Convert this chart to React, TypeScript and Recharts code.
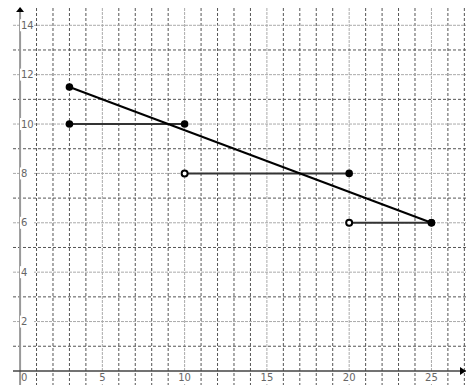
import { LineChart, Line, XAxis, YAxis, CartesianGrid, ReferenceLine, ReferenceDot } from "recharts";

// grid every unit, labels only on some of them
const xGridTicks = [0, 1, 2, 3, 4, 5, 6, 7, 8, 9, 10, 11, 12, 13, 14, 15, 16, 17, 18, 19, 20, 21, 22, 23, 24, 25, 26, 27];
const yGridTicks = [0, 1, 2, 3, 4, 5, 6, 7, 8, 9, 10, 11, 12, 13, 14];
const xLabels = [0, 5, 10, 15, 20, 25];
const yLabels = [2, 4, 6, 8, 10, 12, 14];

// straight line
const trendX = [3, 25];
const trendY = [11.5, 6];

// step segments (open circle on the left end where marked)
const stepFrom = [3, 10, 20];
const stepTo = [10, 20, 25];
const stepLevel = [10, 8, 6];
const stepFromOpen = [false, true, true];

const xDomain = [-0.43, 27.1];
const yDomain = [-0.57, 14.7];

const trendData = trendX.map((x, i) => ({ x, y: trendY[i] }));
const stepData = stepFrom.map((x, i) => [
  { x, y: stepLevel[i], open: stepFromOpen[i] },
  { x: stepTo[i], y: stepLevel[i], open: false },
]);

const xMinor = xGridTicks.filter((v) => v !== 0 && !xLabels.includes(v));
const xMajor = xLabels.filter((v) => v !== 0);
const yMinor = yGridTicks.filter((v) => v !== 0 && !yLabels.includes(v));

// grid positions from the plot offset and the same domains the axes use
const gridX = (vals: number[]) => ({ offset }: any) =>
  vals.map((v) => offset.left + ((v - xDomain[0]) / (xDomain[1] - xDomain[0])) * offset.width);
const gridY = (vals: number[]) => ({ offset }: any) =>
  vals.map((v) => offset.top + ((yDomain[1] - v) / (yDomain[1] - yDomain[0])) * offset.height);

const labelFont = { fontFamily: "DejaVu Sans", fontSize: 10, fill: "#666" };

function XTick(props: any) {
  const { x, y, payload } = props;
  if (!xLabels.includes(payload.value)) return <g />;
  const start = payload.value === 0;
  const w = String(payload.value).length * 6.4 + 2;
  return (
    <g>
      {!start && <rect x={x - w / 2} y={y - 13} width={w} height={12} fill="#fff" />}
      <text x={start ? x + 1 : x} y={y - 4} textAnchor={start ? "start" : "middle"} {...labelFont}>
        {payload.value}
      </text>
    </g>
  );
}

function YTick(props: any) {
  const { x, y, payload } = props;
  if (!yLabels.includes(payload.value)) return <g />;
  return (
    <g>
      <rect x={x + 7} y={y - 6} width={14} height={12} fill="#fff" />
      <text x={x + 8} y={y} dy="0.35em" textAnchor="start" {...labelFont}>
        {payload.value}
      </text>
    </g>
  );
}

function Dot(props: any) {
  const { cx, cy, payload, index } = props;
  if (payload.open) {
    return <circle key={index} cx={cx} cy={cy} r={3} fill="#fff" stroke="#000" strokeWidth={2} />;
  }
  return <circle key={index} cx={cx} cy={cy} r={3.8} fill="#000" />;
}

function ArrowRight(props: any) {
  const { cx, cy } = props;
  return <path d={`M${cx - 6},${cy - 4} L${cx},${cy} L${cx - 6},${cy + 4} Z`} fill="#000" />;
}

function ArrowUp(props: any) {
  const { cx, cy } = props;
  return <path d={`M${cx - 4},${cy + 4} L${cx},${cy - 1} L${cx + 4},${cy + 4} Z`} fill="#000" />;
}

export default function App() {
  return (
    <div style={{ position: "absolute", left: 0, top: 0, width: 468, height: 385, overflow: "hidden", background: "#fff" }}>
      <LineChart width={468} height={386} margin={{ top: 8, right: 2, bottom: 0, left: 12 }}>
        <CartesianGrid horizontal={false} stroke="#555" strokeDasharray="3 2" verticalCoordinatesGenerator={gridX(xMinor)} />
        <CartesianGrid horizontal={false} stroke="#aaa" strokeDasharray="3 1" verticalCoordinatesGenerator={gridX(xMajor)} />
        <CartesianGrid vertical={false} stroke="#555" strokeDasharray="3 2" horizontalCoordinatesGenerator={gridY(yMinor)} />
        <CartesianGrid vertical={false} stroke="#aaa" strokeDasharray="3 1" horizontalCoordinatesGenerator={gridY(yLabels)} />
        <XAxis
          dataKey="x"
          type="number"
          domain={xDomain}
          ticks={xGridTicks}
          height={1}
          axisLine={false}
          tickLine={false}
          tickSize={0}
          tickMargin={0}
          tick={<XTick />}
          interval={0}
          allowDataOverflow
        />
        <YAxis
          type="number"
          domain={yDomain}
          ticks={yGridTicks}
          width={1}
          axisLine={false}
          tickLine={false}
          tickSize={0}
          tickMargin={0}
          tick={<YTick />}
          interval={0}
          allowDataOverflow
        />
        <ReferenceLine x={0} stroke="#999" strokeWidth={2} />
        <ReferenceLine y={0} stroke="#444" strokeWidth={1.5} />
        <ReferenceDot x={xDomain[1]} y={0} ifOverflow="visible" shape={<ArrowRight />} />
        <ReferenceDot x={0} y={yDomain[1]} ifOverflow="visible" shape={<ArrowUp />} />
        {stepData.map((seg, i) => (
          <Line
            key={i}
            data={seg}
            dataKey="y"
            stroke="#333"
            strokeWidth={2}
            dot={Dot}
            activeDot={false}
            isAnimationActive={false}
          />
        ))}
        <Line
          data={trendData}
          dataKey="y"
          stroke="#000"
          strokeWidth={2}
          dot={Dot}
          activeDot={false}
          isAnimationActive={false}
        />
      </LineChart>
    </div>
  );
}
